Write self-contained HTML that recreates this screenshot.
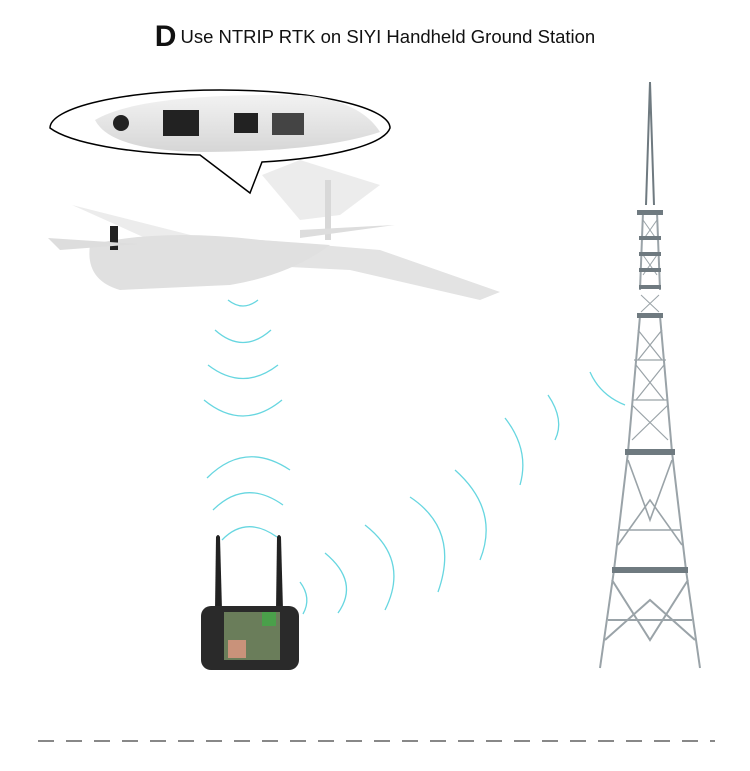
<!DOCTYPE html>
<html><head><style>
html,body{margin:0;padding:0;background:#fff;}
body{width:750px;height:771px;overflow:hidden;position:relative;font-family:"Liberation Sans",sans-serif;}
.t{position:absolute;top:20px;left:0;width:750px;text-align:center;color:#111;font-size:18.5px;}
.t b{font-size:30px;font-weight:bold;vertical-align:-3px;margin-right:4px;}
</style></head><body>
<div class="t"><b>D</b>Use NTRIP RTK on SIYI Handheld Ground Station</div>
<svg width="750" height="771" style="position:absolute;left:0;top:0">
<defs>
<linearGradient id="w" x1="0" y1="0" x2="0" y2="1"><stop offset="0" stop-color="#f2f2f2"/><stop offset="1" stop-color="#d6d6d6"/></linearGradient>
</defs>
<!-- plane -->
<g fill="#e6e6e6">
<path d="M72,205 L230,245 L300,255 L320,260 L240,262 L190,258 Z" fill="#ececec"/>
<path d="M260,240 L380,250 L500,292 L480,300 L350,270 L250,265 Z" fill="#e3e3e3"/>
<path d="M90,245 Q160,228 260,240 L330,245 Q290,275 230,285 L120,290 Q85,280 90,245 Z" fill="#e0e0e0"/>
<path d="M262,175 L300,160 L380,185 L340,215 L300,220 Z" fill="#ececec"/>
<rect x="110" y="226" width="8" height="24" fill="#222"/>
<rect x="325" y="180" width="6" height="60" fill="#d8d8d8"/>
<path d="M48,238 L140,244 L60,250 Z" fill="#ddd"/>
<path d="M300,230 L395,225 L300,238 Z" fill="#ddd"/>
</g>
<!-- callout -->
<path d="M50,128 A170,38 0 1 1 390,128 A170,38 0 0 1 262,162 L250,193 L200,155 A170,38 0 0 1 50,128 Z" fill="#fff" stroke="#000" stroke-width="1.5"/>
<path d="M95,120 Q140,93 300,95 Q360,100 380,132 Q320,152 200,152 Q110,150 95,120 Z" fill="url(#w)"/>
<circle cx="121" cy="123" r="8" fill="#222"/>
<rect x="163" y="110" width="36" height="26" fill="#222"/>
<rect x="234" y="113" width="24" height="20" fill="#222"/>
<rect x="272" y="113" width="32" height="22" fill="#444"/>
<!-- waves -->
<g fill="none" stroke="#35c9d6" stroke-width="1.3" opacity="0.75">
<path d="M228,300 Q243,312 258,300"/>
<path d="M215,330 Q243,355 271,330"/>
<path d="M208,365 Q243,392 278,365"/>
<path d="M204,400 Q243,432 282,400"/>
<path d="M207,478 Q245,440 290,470"/>
<path d="M213,510 Q245,478 283,505"/>
<path d="M222,540 Q246,515 277,537"/>
<path d="M300,582 Q312,598 303,614"/>
<path d="M325,553 Q360,582 338,613"/>
<path d="M365,525 Q410,560 385,610"/>
<path d="M410,497 Q460,530 438,592"/>
<path d="M455,470 Q500,510 480,560"/>
<path d="M505,418 Q530,450 520,485"/>
<path d="M548,395 Q565,420 555,440"/>
<path d="M590,372 Q600,395 625,405"/>
</g>
<!-- controller -->
<path d="M215,610 L216,537 Q218,533 220,537 L222,610 Z" fill="#222"/>
<path d="M276,610 L277,537 Q279,533 281,537 L283,610 Z" fill="#222"/>
<rect x="201" y="606" width="98" height="64" rx="10" fill="#2a2a2a"/>
<rect x="224" y="612" width="56" height="48" fill="#6a7d5a"/>
<rect x="228" y="640" width="18" height="18" fill="#c9927a"/>
<rect x="262" y="612" width="14" height="14" fill="#4aa04a"/>
<!-- tower -->
<g stroke="#9aa3a8" fill="none" stroke-width="2">
<path d="M650,82 L646,205 M650,82 L654,205" stroke="#6f7a80"/>
<path d="M643,212 L640,290 M657,212 L660,290"/>
<path d="M640,316 L628,452 M660,316 L672,452"/>
<path d="M628,452 L614,570 M672,452 L686,570"/>
<path d="M614,570 L600,668 M686,570 L700,668"/>
<path d="M643,220 L657,240 M657,220 L643,240 M643,255 L657,275 M657,255 L643,275 M641,295 L659,312 M659,295 L641,312" stroke-width="1"/>
<path d="M638,330 L662,360 M662,330 L638,360 M636,365 L664,400 M664,365 L636,400 M632,405 L668,440 M668,405 L632,440 M634,360 L666,360 M632,400 L668,400" stroke-width="1.2"/>
<path d="M628,460 L650,520 L672,460 M620,530 L680,530 M618,545 L650,500 L682,545" stroke-width="1.6"/>
<path d="M612,580 L650,640 L688,580 M605,640 L650,600 L695,640 M608,620 L692,620" stroke-width="2"/>
</g>
<g fill="#6f7a80">
<rect x="637" y="210" width="26" height="5"/>
<rect x="639" y="236" width="22" height="4"/>
<rect x="639" y="252" width="22" height="4"/>
<rect x="639" y="268" width="22" height="4"/>
<rect x="639" y="285" width="22" height="4"/>
<rect x="637" y="313" width="26" height="5"/>
<rect x="625" y="449" width="50" height="6"/>
<rect x="612" y="567" width="76" height="6"/>
</g>
<line x1="38" y1="741" x2="715" y2="741" stroke="#888" stroke-width="2" stroke-dasharray="16,12"/>
</svg>
</body></html>
